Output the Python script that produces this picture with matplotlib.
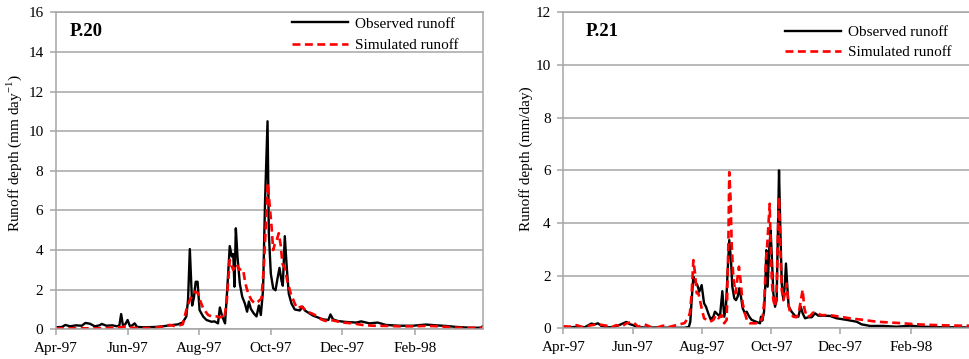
import numpy as np
import matplotlib
matplotlib.use("Agg")
import matplotlib.pyplot as plt
import matplotlib.dates as mdates

plt.rcParams['font.family'] = 'Liberation Serif'
plt.rcParams['mathtext.fontset'] = 'custom'
plt.rcParams['mathtext.rm'] = 'Liberation Serif'

START = mdates.date2num(np.datetime64('1997-04-01'))
END = mdates.date2num(np.datetime64('1998-03-31'))

# day offsets from 1 Apr 1997, runoff in mm/day
p20_obs_day = [0, 5, 8, 12, 17, 22, 25, 29, 33, 37, 39, 43, 48, 52, 54, 55.5, 57, 59, 61, 63,
               65, 67, 69, 75, 85, 91, 97, 104, 108, 111, 112.5, 114, 116, 117.5, 119, 120.6,
               122.3, 125.4, 128.2, 132.5, 135, 138, 139.6, 141.6, 144, 146, 148, 149.8, 151,
               152, 153.2, 154.6, 156.6, 158.6, 160.9, 162.8, 164.3, 166, 168.5, 170.8, 172.8,
               174.5, 176.4, 178.1, 180.2, 181.3, 183, 185, 187, 188.7, 190.4, 192.1, 193.2,
               194.9, 196.6, 198.3, 200.6, 203.4, 207.7, 210, 212, 216, 219, 223, 227.5, 232,
               233.8, 236, 240, 247, 255.7, 260, 267, 274, 281, 292.5, 304, 315, 324, 332, 341,
               352.5, 362, 364]
p20_obs = [0.1, 0.12, 0.22, 0.15, 0.2, 0.18, 0.32, 0.28, 0.15, 0.2, 0.27, 0.18, 0.2, 0.15, 0.2,
           0.77, 0.2, 0.25, 0.47, 0.15, 0.2, 0.3, 0.12, 0.1, 0.12, 0.15, 0.2, 0.25, 0.35, 0.64,
           1.5, 4.05, 1.2, 1.6, 2.4, 2.4, 0.97, 0.64, 0.47, 0.38, 0.4, 0.3, 1.1, 0.65, 0.3, 2.15,
           4.2, 3.67, 3.8, 2.15, 5.1, 3.67, 2.3, 1.65, 1.3, 0.89, 1.4, 1.03, 0.8, 0.65, 1.2, 0.72,
           2.0, 6.5, 10.5, 4.85, 2.8, 2.07, 1.97, 2.57, 3.1, 2.45, 2.2, 4.7, 3.1, 1.8, 1.3, 1.0,
           0.95, 1.14, 0.95, 0.8, 0.69, 0.6, 0.5, 0.47, 0.75, 0.5, 0.42, 0.37, 0.34, 0.4, 0.3,
           0.34, 0.22, 0.18, 0.18, 0.24, 0.2, 0.17, 0.12, 0.08, 0.08, 0.18]

p20_sim_day = [0, 20, 40, 55, 60, 65, 72, 85, 97, 102, 108, 111, 114, 118.3, 120.6, 122.6, 125.4,
               129.6, 132.5, 136.7, 139.6, 141.6, 143.3, 145.3, 148, 150.9, 153.8, 156, 158,
               159.4, 161.4, 163.7, 166.5, 169.4, 172.2, 175, 177, 178.7, 180.4, 181.8, 183.6,
               185, 186.4, 188, 189.8, 191.5, 192.9, 194.9, 197.2, 200, 203.4, 205.5, 209, 212,
               214.7, 218, 222, 226, 229.5, 234, 238, 244, 253, 261, 270, 281, 292.5, 304, 315,
               327, 341, 352.5, 364]
p20_sim = [0.05, 0.05, 0.05, 0.1, 0.15, 0.08, 0.05, 0.08, 0.22, 0.15, 0.25, 0.97, 1.48, 1.9,
           1.85, 1.48, 1.05, 0.72, 0.65, 0.65, 0.6, 0.65, 0.55, 1.3, 3.5, 3.0, 3.3, 3.0, 3.05,
           3.0, 2.3, 1.8, 1.48, 1.3, 1.4, 1.55, 3.1, 5.2, 7.37, 6.4, 5.2, 4.0, 4.3, 4.5, 4.85,
           4.2, 3.3, 3.1, 2.4, 1.8, 1.3, 1.05, 1.15, 1.0, 0.87, 0.8, 0.67, 0.5, 0.42, 0.47, 0.42,
           0.34, 0.3, 0.22, 0.18, 0.17, 0.15, 0.15, 0.17, 0.15, 0.08, 0.07, 0.08]

p21_obs_day = [0, 7.1, 13, 18.9, 24.7, 27.6, 30.5, 33.5, 37.9, 43.8, 49.6, 55.5, 58.4, 61.4,
               65.8, 71.6, 83.4, 95.2, 106.8, 110.5, 111.8, 113, 114.5, 116, 118, 119.7, 121.8,
               123.9, 125.6, 127.6, 129.7, 132.1, 133.5, 135.6, 137.9, 140, 141.7, 143.2, 144.7,
               146.1, 147.6, 148.8, 150.5, 152, 153.5, 154.9, 156.4, 157.9, 159.9, 161.4, 163.7,
               165.8, 170.2, 173.2, 174, 175.2, 176.7, 177.9, 178.7, 179.9, 181.4, 182.5, 183.7,
               184.9, 186.4, 187.8, 189, 189.9, 191, 192.3, 193.7, 194.9, 196, 197.2, 198.4, 201,
               204, 206.9, 209, 210.7, 212.8, 215.8, 218.7, 221.6, 224.5, 228.9, 234.7, 240.6,
               249.4, 258.2, 262.6, 270, 281.7, 293.4, 305.2, 316.9, 331.6, 346.3, 357.1, 364]
p21_obs = [0.03, 0.04, 0.06, 0.04, 0.18, 0.15, 0.19, 0.09, 0.04, 0.04, 0.13, 0.24, 0.16, 0.12,
           0.04, 0.03, 0.03, 0.02, 0.02, 0.05, 0.25, 1.07, 1.96, 1.77, 1.64, 1.39, 1.64, 0.95,
           0.82, 0.57, 0.34, 0.44, 0.63, 0.54, 0.44, 1.41, 0.44, 0.82, 2.2, 3.35, 2.6, 1.58,
           1.14, 1.07, 1.2, 1.52, 1.2, 0.76, 0.57, 0.63, 0.44, 0.32, 0.24, 0.19, 0.44, 0.29,
           0.63, 1.7, 2.97, 1.58, 3.1, 3.72, 2.59, 1.33, 0.82, 1.07, 3.85, 6.0, 3.85, 1.7, 1.07,
           1.58, 2.46, 1.58, 0.82, 0.63, 0.47, 0.44, 0.82, 0.57, 0.38, 0.42, 0.42, 0.57, 0.48,
           0.48, 0.47, 0.38, 0.32, 0.25, 0.15, 0.09, 0.09, 0.06, 0.1, 0.06, 0.04, 0.04, 0.03,
           0.03]

p21_sim_day = [0, 5.6, 11.5, 17.3, 24.7, 30.5, 37.9, 42.3, 46.7, 51.1, 55.5, 61.4, 65.8, 71.6,
               77.5, 83.4, 87.8, 92.2, 96.6, 102.4, 106.8, 110.4, 111.5, 113, 114.5, 116, 117.4,
               118.9, 120.3, 121.8, 123.9, 126.2, 129.1, 132.1, 134.4, 136.5, 139.4, 141.7,
               143.8, 145.3, 146.1, 147.3, 148.2, 149.6, 151.6, 153.1, 154.6, 156, 157.9, 159.9,
               162, 164.3, 168.7, 173.2, 175.5, 177, 178.4, 179.6, 180.8, 181.7, 182.5, 183.7,
               184.9, 186.4, 187.8, 189, 189.9, 191, 192.3, 193.7, 195.2, 196.6, 198.1, 199.6,
               202.5, 205.4, 207.7, 209.2, 210.7, 212.2, 214.2, 217.2, 220.1, 223, 227.4, 234.7,
               243.5, 252.3, 264, 275.8, 287.5, 299.2, 311, 322.7, 337.4, 352, 364]
p21_sim = [0.08, 0.06, 0.12, 0.04, 0.12, 0.15, 0.1, 0.04, 0.12, 0.06, 0.19, 0.24, 0.06, 0.15,
           0.04, 0.04, 0.1, 0.04, 0.09, 0.15, 0.2, 0.44, 0.6, 1.33, 2.59, 2.08, 1.33, 1.33, 1.07,
           0.76, 0.38, 0.32, 0.25, 0.32, 0.5, 0.38, 0.5, 0.19, 0.32, 3.22, 5.93, 4.86, 3.22,
           1.96, 1.33, 1.83, 2.34, 1.83, 0.95, 0.57, 0.25, 0.19, 0.19, 0.21, 0.44, 1.07, 2.59,
           3.22, 4.1, 4.73, 3.22, 1.7, 1.07, 0.82, 1.45, 3.72, 4.98, 3.22, 1.45, 1.07, 1.33, 1.7,
           0.95, 0.6, 0.44, 0.42, 0.7, 1.08, 1.46, 0.76, 0.44, 0.47, 0.6, 0.57, 0.5, 0.5, 0.44,
           0.38, 0.32, 0.25, 0.22, 0.19, 0.15, 0.13, 0.11, 0.1, 0.1]

GRID = '#a6a6a6'
W, H = 969.0, 359.0


def draw_panel(fig, rect, obs_day, obs, sim_day, sim, ymax, ylabel, name, name_x,
               leg_anchor, leg_spacing, label_xy):
    ax = fig.add_axes(rect)
    ax.plot(START + np.array(obs_day), obs, color='black', lw=1.7, label='Observed runoff')
    ax.plot(START + np.array(sim_day), sim, color='#ff0000', lw=1.9, dashes=(3.0, 1.7),
            label='Simulated runoff')
    ax.set_xlim(START, END)
    ax.set_ylim(0, ymax)
    ax.set_yticks(np.arange(0, ymax + 1, 2))
    ax.yaxis.grid(True, color=GRID, lw=1.1)
    ax.set_axisbelow(True)
    ax.xaxis.set_major_locator(mdates.MonthLocator(bymonth=[2, 4, 6, 8, 10, 12]))
    ax.xaxis.set_major_formatter(mdates.DateFormatter('%b-%y'))
    for s in ax.spines.values():
        s.set_color(GRID)
        s.set_linewidth(1.1)
    ax.tick_params(axis='both', colors=GRID, labelcolor='black', labelsize=11,
                   length=4, width=1.1, direction='out')
    ax.tick_params(axis='x', pad=5)
    ax.tick_params(axis='y', pad=5)
    ax.set_ylabel(ylabel, fontsize=11)
    ax.yaxis.set_label_coords(*label_xy)
    ax.text(name_x, 0.938, name, transform=ax.transAxes,
            fontsize=13.5, fontweight='bold', va='center', ha='left')
    ax.legend(loc='upper left', bbox_to_anchor=leg_anchor, frameon=False, fontsize=11,
              handlelength=3.7, handletextpad=0.4, labelspacing=leg_spacing,
              borderpad=0, borderaxespad=0)
    return ax


fig = plt.figure(figsize=(W / 100, H / 100), dpi=100)

left_rect = [56 / W, (H - 329.3) / H, (483.3 - 56) / W, (329.3 - 12.3) / H]
right_rect = [563.3 / W, (H - 328.3) / H, (976.8 - 563.3) / W, (328.3 - 12.3) / H]

ax1 = draw_panel(fig, left_rect, p20_obs_day, p20_obs, p20_sim_day, p20_sim, 16,
                 'Runoff depth (mm day$^{-1}$)', 'P.20', 0.032, (0.552, 0.985), 0.5,
                 (-0.075, 0.556))
ax2 = draw_panel(fig, right_rect, p21_obs_day, p21_obs, p21_sim_day, p21_sim, 12,
                 'Runoff depth (mm/day)', 'P.21', 0.055, (0.536, 0.958), 0.42,
                 (-0.074, 0.538))

fig.savefig('out.png', dpi=100)
